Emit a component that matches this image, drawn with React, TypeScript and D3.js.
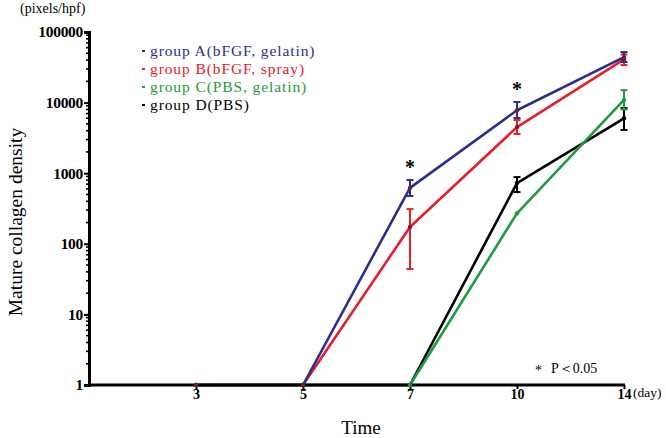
import React, { useEffect, useRef } from "react";
import * as d3 from "d3";

// x categories (day), first slot is the origin with no tick
const days = ["3", "5", "7", "10", "14"];

const seriesNames = [
  "group A(bFGF, gelatin)",
  "group B(bFGF, spray)",
  "group C(PBS, gelatin)",
  "group D(PBS)",
];
const seriesColors = ["#2b2f8c", "#e3202b", "#1f9a3c", "#000000"];

// mean values per day
const groupA = [1, 1, 620, 7800, 44000];
const groupB = [1, 1, 173, 4500, 41000];
const groupC = [1, 1, 1, 270, 10900];
const groupD = [1, 1, 1, 726, 6000];

// error bars [low, high], null = none visible
const errA = [null, null, [475, 800], [6060, 10200], [37600, 52000]];
const errB = [null, null, [44, 310], [3590, 5670], [34000, 48000]];
const errC = [null, null, null, null, [8000, 15000]];
const errD = [null, null, null, [540, 880], [4100, 8400]];

const yTicks = [1, 10, 100, 1000, 10000, 100000];
// days with a significance star over group A
const starDays = ["7", "10"];

const FONT = "'Liberation Serif', 'Times New Roman', serif";

const App = () => {
  const svgRef = useRef<SVGSVGElement | null>(null);

  useEffect(() => {
    const svg = d3.select(svgRef.current);
    svg.selectAll("*").remove();

    const x = d3
      .scalePoint<string>()
      .domain(["0", ...days])
      .range([89, 624]);

    const y = d3.scaleLog().domain([1, 100000]).range([385, 32]);

    const values = [groupA, groupB, groupC, groupD];
    const errs = [errA, errB, errC, errD];

    // draw order: black, green, red, blue on top
    const order = [3, 2, 1, 0];

    const line = d3
      .line<number>()
      .x((d, i) => x(days[i]) as number)
      .y((d) => y(d));

    order.forEach((s) => {
      svg
        .append("path")
        .attr("d", line(values[s]))
        .attr("fill", "none")
        .attr("stroke", seriesColors[s])
        .attr("stroke-width", 2.6)
        .attr("stroke-linejoin", "round");

      errs[s].forEach((e, i) => {
        if (!e) return;
        const cx = x(days[i]) as number;
        const g = svg.append("g").attr("stroke", seriesColors[s]).attr("stroke-width", 2);
        g.append("line").attr("x1", cx).attr("x2", cx).attr("y1", y(e[0])).attr("y2", y(e[1]));
        g.append("line").attr("x1", cx - 3.5).attr("x2", cx + 3.5).attr("y1", y(e[0])).attr("y2", y(e[0]));
        g.append("line").attr("x1", cx - 3.5).attr("x2", cx + 3.5).attr("y1", y(e[1])).attr("y2", y(e[1]));
      });
    });

    // y axis
    const yAxis = d3
      .axisLeft(y)
      .tickValues(yTicks)
      .tickFormat((d) => String(d))
      .tickSize(5)
      .tickPadding(1);
    const gy = svg.append("g").attr("transform", "translate(89,0)").call(yAxis);
    gy.select(".domain").attr("stroke-width", 3);
    gy.selectAll(".tick line").attr("stroke-width", 2);
    gy.selectAll("text")
      .attr("font-family", FONT)
      .attr("font-weight", "bold")
      .attr("font-size", 15.5)
      .attr("letter-spacing", -0.3)
      .attr("fill", "#000");

    // minor ticks
    const minors: number[] = [];
    for (let p = 1; p < 100000; p *= 10) {
      for (let k = 2; k <= 9; k++) minors.push(p * k);
    }
    svg
      .append("g")
      .selectAll("line")
      .data(minors)
      .enter()
      .append("line")
      .attr("x1", 86)
      .attr("x2", 89)
      .attr("y1", (d) => y(d))
      .attr("y2", (d) => y(d))
      .attr("stroke", "#000")
      .attr("stroke-width", 1.6);

    // x axis
    const xAxis = d3.axisBottom(x).tickValues(days).tickSize(4).tickPadding(0);
    const gx = svg.append("g").attr("transform", "translate(0,385)").call(xAxis);
    gx.select(".domain").attr("stroke-width", 3).attr("d", "M88,0H625");
    gx.selectAll(".tick line").attr("stroke-width", 2);
    gx.selectAll("text")
      .attr("font-family", FONT)
      .attr("font-weight", "bold")
      .attr("font-size", 14)
      .attr("fill", "#000");

    // point markers
    order.forEach((s) => {
      svg
        .append("g")
        .selectAll("circle")
        .data(values[s])
        .enter()
        .append("circle")
        .attr("cx", (d, i) => x(days[i]) as number)
        .attr("cy", (d) => y(d))
        .attr("r", 2.2)
        .attr("fill", s === 0 || s === 1 ? "#7a1b2a" : seriesColors[s]);
    });

    // significance stars
    starDays.forEach((d) => {
      const i = days.indexOf(d);
      svg
        .append("text")
        .attr("x", x(d) as number)
        .attr("y", y(errA[i]![1]) - 6)
        .attr("text-anchor", "middle")
        .attr("font-family", FONT)
        .attr("font-weight", "bold")
        .attr("font-size", 20)
        .text("*");
    });

    // legend
    const lg = svg
      .append("g")
      .attr("font-family", FONT)
      .attr("font-size", 15.5)
      .attr("letter-spacing", 0.9);
    seriesNames.forEach((name, i) => {
      const yy = 51 + i * 18;
      lg.append("rect")
        .attr("x", 142)
        .attr("y", yy - 1)
        .attr("width", 3)
        .attr("height", 2)
        .attr("fill", seriesColors[i]);
      lg.append("text")
        .attr("x", 150)
        .attr("y", yy + 5)
        .attr("fill", seriesColors[i])
        .text(name);
    });

    const txt = (x0: number, y0: number, s: string, size: number, anchor = "start") =>
      svg
        .append("text")
        .attr("x", x0)
        .attr("y", y0)
        .attr("font-family", FONT)
        .attr("font-size", size)
        .attr("text-anchor", anchor)
        .text(s);

    txt(20, 13, "(pixels/hpf)", 14);
    txt(633, 397, "(day)", 13.5);
    txt(361, 434, "Time", 19, "middle");
    txt(535, 375, "*", 14);
    txt(551, 373, "P＜0.05", 14);

    svg
      .append("text")
      .attr("transform", "translate(22,222) rotate(-90)")
      .attr("text-anchor", "middle")
      .attr("font-family", FONT)
      .attr("font-size", 19.5)
      .text("Mature collagen density");
  }, []);

  return (
    <svg
      ref={svgRef}
      width={666}
      height={438}
      style={{ position: "absolute", left: 0, top: 0, background: "#fff" }}
    />
  );
};

export default App;
